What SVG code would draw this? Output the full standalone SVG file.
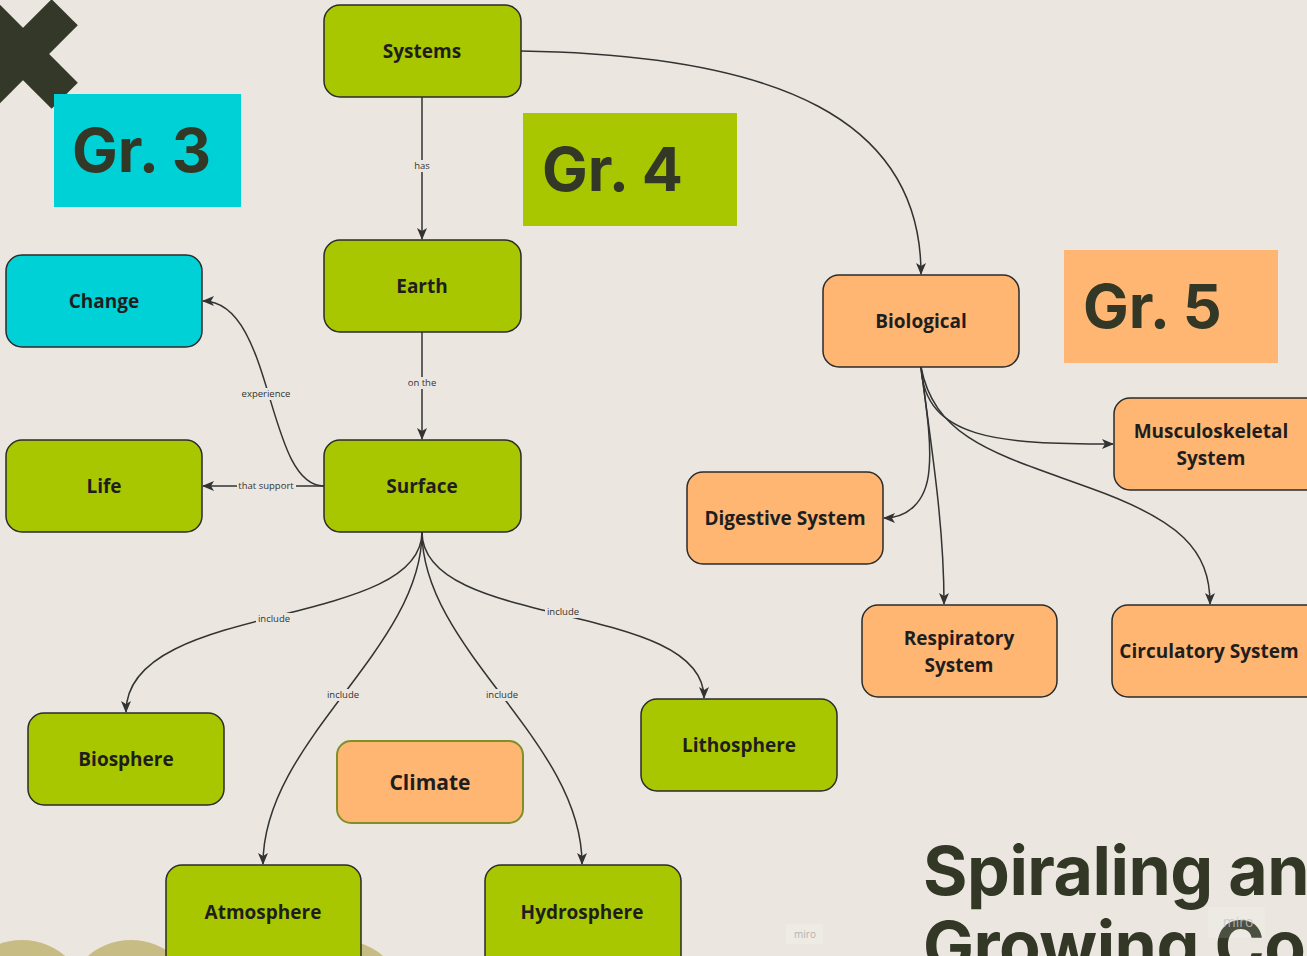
<svg xmlns="http://www.w3.org/2000/svg" width="1307" height="956" viewBox="0 0 1307 956">
<defs>
<style>
.n rect{stroke:#2b2b2b;stroke-width:1.5}
.g rect{fill:#a9c700}
.o rect{fill:#ffb673}
.c rect{fill:#00d1d6}
.n text{font-family:"Open Sans","Liberation Sans",sans-serif;font-weight:700;font-size:19px;fill:#1e1e1e;text-anchor:middle}
.e{fill:none;stroke:#333333;stroke-width:1.5}
.lbl{font-family:"Open Sans","Liberation Sans",sans-serif;font-size:9.5px;fill:#333333;text-anchor:middle}
.lb{fill:#ebe7e0}
.gr{font-family:Inter,"Liberation Sans",sans-serif;font-weight:700;font-size:61px;fill:#333826}
.title{font-family:Inter,"Liberation Sans",sans-serif;font-weight:700;font-size:68px;fill:#333826;letter-spacing:-0.5px}
</style>
<marker id="ah" viewBox="0 0 12 10" refX="11" refY="5" markerWidth="12" markerHeight="10" markerUnits="userSpaceOnUse" orient="auto">
<path d="M0,0 L12,5 L0,10 L3,5 Z" fill="#333333"/>
</marker>
</defs>
<rect width="1307" height="956" fill="#ebe7e0"/>

<g id="decor">
<rect x="-36" y="35.5" width="118" height="37" fill="#333828" transform="rotate(45 23 54)"/>
<rect x="-36" y="35.5" width="118" height="37" fill="#333828" transform="rotate(-45 23 54)"/>
<circle cx="22" cy="1006" r="66" fill="#c8bc85"/>
<circle cx="131" cy="1006" r="66" fill="#c8bc85"/>
<circle cx="340" cy="1006" r="66" fill="#c8bc85"/>
</g>

<g id="gr3"><rect x="54" y="94" width="187" height="113" fill="#00d1d6"/><text class="gr" x="72" y="172">Gr. 3</text></g>
<g id="gr4"><rect x="523" y="113" width="214" height="113" fill="#a9c700"/><text class="gr" x="542" y="191">Gr. 4</text></g>
<g id="gr5"><rect x="1064" y="250" width="214" height="113" fill="#ffb673"/><text class="gr" x="1083" y="328">Gr. 5</text></g>

<g id="connectors">
<path class="e" d="M422,97 L422,239" marker-end="url(#ah)"/>
<path class="e" d="M422,332 L422,439" marker-end="url(#ah)"/>
<path class="e" d="M521,51 C780,55 921,120 921,274" marker-end="url(#ah)"/>
<path class="e" d="M324,486 C265,486 275,301 203,301" marker-end="url(#ah)"/>
<path class="e" d="M324,486 L203,486" marker-end="url(#ah)"/>
<path class="e" d="M422,532 C422,630 126,600 126,712" marker-end="url(#ah)"/>
<path class="e" d="M422,532 C422,630 704,600 704,698" marker-end="url(#ah)"/>
<path class="e" d="M422,532 C422,650 263,740 263,864" marker-end="url(#ah)"/>
<path class="e" d="M422,532 C422,650 582,740 582,864" marker-end="url(#ah)"/>
<path class="e" d="M921,367 C925,440 1000,444 1113,444" marker-end="url(#ah)"/>
<path class="e" d="M921,367 C925,400 932,440 929,470 C926,505 905,518 884,518" marker-end="url(#ah)"/>
<path class="e" d="M921,367 C930,440 944,520 944,604" marker-end="url(#ah)"/>
<path class="e" d="M921,367 C935,440 1000,455 1090,488 C1180,520 1210,550 1210,604" marker-end="url(#ah)"/>
<rect class="lb" x="412" y="160" width="20" height="12"/><text class="lbl" x="422" y="169">has</text>
<rect class="lb" x="406" y="377" width="32" height="12"/><text class="lbl" x="422" y="386">on the</text>
<rect class="lb" x="240" y="388" width="53" height="12"/><text class="lbl" x="266" y="397">experience</text>
<rect class="lb" x="237" y="480" width="59" height="12"/><text class="lbl" x="266" y="489">that support</text>
<rect class="lb" x="256" y="613" width="36" height="12"/><text class="lbl" x="274" y="622">include</text>
<rect class="lb" x="545" y="606" width="36" height="12"/><text class="lbl" x="563" y="615">include</text>
<rect class="lb" x="325" y="689" width="36" height="12"/><text class="lbl" x="343" y="698">include</text>
<rect class="lb" x="484" y="689" width="36" height="12"/><text class="lbl" x="502" y="698">include</text>
</g>

<g id="systems" class="n g"><rect x="324" y="5" width="197" height="92" rx="16"/><text x="422" y="58">Systems</text></g>
<g id="earth" class="n g"><rect x="324" y="240" width="197" height="92" rx="16"/><text x="422" y="293">Earth</text></g>
<g id="surface" class="n g"><rect x="324" y="440" width="197" height="92" rx="16"/><text x="422" y="493">Surface</text></g>
<g id="change" class="n c"><rect x="6" y="255" width="196" height="92" rx="16"/><text x="104" y="308">Change</text></g>
<g id="life" class="n g"><rect x="6" y="440" width="196" height="92" rx="16"/><text x="104" y="493">Life</text></g>
<g id="biosphere" class="n g"><rect x="28" y="713" width="196" height="92" rx="16"/><text x="126" y="766">Biosphere</text></g>
<g id="lithosphere" class="n g"><rect x="641" y="699" width="196" height="92" rx="16"/><text x="739" y="752">Lithosphere</text></g>
<g id="climate" class="n o"><rect x="337" y="741" width="186" height="82" rx="14" style="stroke:#7f8f2a;stroke-width:2"/><text x="430" y="790" style="font-size:21px">Climate</text></g>
<g id="atmosphere" class="n g"><rect x="166" y="865" width="195" height="110" rx="16"/><text x="263" y="919">Atmosphere</text></g>
<g id="hydrosphere" class="n g"><rect x="485" y="865" width="196" height="110" rx="16"/><text x="582" y="919">Hydrosphere</text></g>
<g id="biological" class="n o"><rect x="823" y="275" width="196" height="92" rx="16"/><text x="921" y="328">Biological</text></g>
<g id="musculoskeletal" class="n o"><rect x="1114" y="398" width="210" height="92" rx="16"/><text x="1211" y="438">Musculoskeletal</text><text x="1211" y="465">System</text></g>
<g id="digestive" class="n o"><rect x="687" y="472" width="196" height="92" rx="16"/><text x="785" y="525">Digestive System</text></g>
<g id="respiratory" class="n o"><rect x="862" y="605" width="195" height="92" rx="16"/><text x="959" y="645">Respiratory</text><text x="959" y="672">System</text></g>
<g id="circulatory" class="n o"><rect x="1112" y="605" width="210" height="92" rx="16"/><text x="1209" y="658">Circulatory System</text></g>

<g id="title">
<text class="title" x="923" y="895">Spiraling and</text>
<text class="title" x="923" y="970">Growing Concepts</text>
</g>
<g id="watermarks" font-family="Open Sans, Liberation Sans, sans-serif" text-anchor="middle">
<rect x="786" y="924" width="37" height="20" fill="#ffffff" fill-opacity="0.15"/>
<text x="805" y="938" font-size="10" fill="#b5b2ad">miro</text>
<rect x="1208" y="907" width="57" height="31" fill="#ffffff" fill-opacity="0.12"/>
<text x="1238" y="927" font-size="14" fill="#c6c3cc" fill-opacity="0.8">miro</text>
</g>
</svg>
